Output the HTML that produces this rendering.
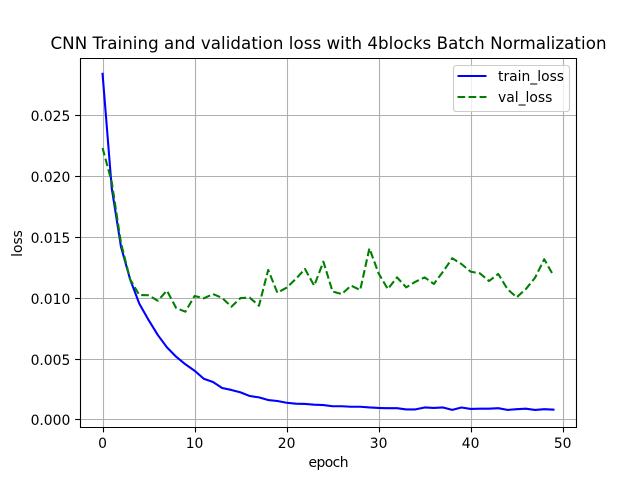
<!DOCTYPE html>
<html>
<head>
<meta charset="utf-8">
<title>CNN Training and validation loss</title>
<style>
html,body{margin:0;padding:0;background:#fff;}
svg{display:block;font-family:"DejaVu Sans","Liberation Sans",sans-serif;}
</style>
</head>
<body>
<svg id="chart" xmlns="http://www.w3.org/2000/svg" width="640" height="480" viewBox="0 0 640 480">
  <rect x="0" y="0" width="640" height="480" fill="#ffffff"/>
  <rect x="80" y="58" width="496" height="369.6" fill="#ffffff"/>
  <g id="grid"></g>
  <g id="series"></g>
  <g id="ticks"></g>
  <g fill="none" stroke="#000" stroke-width="1.11">
    <line x1="80.5" y1="58" x2="80.5" y2="428"/>
    <line x1="576.5" y1="58" x2="576.5" y2="428"/>
    <line x1="80" y1="58.5" x2="577" y2="58.5"/>
    <line x1="80" y1="427.5" x2="577" y2="427.5"/>
  </g>
  <text x="328.5" y="49" font-size="16.67" text-anchor="middle" textLength="556" fill="#000">CNN Training and validation loss with 4blocks Batch Normalization</text>
  <text x="328.5" y="467" font-size="13.89" text-anchor="middle" textLength="40" fill="#000">epoch</text>
  <text transform="translate(22,243.5) rotate(-90)" font-size="13.89" text-anchor="middle" fill="#000">loss</text>
  <g>
    <rect x="453.5" y="65.5" width="116" height="46" rx="2.8" ry="2.8" fill="#ffffff" fill-opacity="0.8" stroke="#cccccc" stroke-width="1.11"/>
    <line x1="457.5" y1="76" x2="486.5" y2="76" stroke="#0000ff" stroke-width="2.08"/>
    <text x="498" y="81" font-size="13.89" fill="#000">train_loss</text>
    <line x1="457.5" y1="97" x2="486.5" y2="97" stroke="#008000" stroke-width="2.08" stroke-dasharray="7.7 3.33"/>
    <text x="498" y="102" font-size="13.89" fill="#000">val_loss</text>
  </g>
</svg>
<script>
var epochs = [0,1,2,3,4,5,6,7,8,9,10,11,12,13,14,15,16,17,18,19,20,21,22,23,24,25,26,27,28,29,30,31,32,33,34,35,36,37,38,39,40,41,42,43,44,45,46,47,48,49];
var trainLoss = [0.0284,0.0190,0.0142,0.0115,0.0095,0.00817,0.00694,0.00592,0.00515,0.00453,0.0040,0.00334,0.00307,0.00258,0.00242,0.00222,0.00192,0.00181,0.00159,0.00151,0.00137,0.00129,0.00127,0.00121,0.00118,0.00108,0.00108,0.00104,0.00104,0.00098,0.00094,0.00092,0.00092,0.00082,0.00082,0.00098,0.00094,0.00098,0.00078,0.00098,0.00086,0.00088,0.00088,0.00092,0.00078,0.00084,0.00088,0.00078,0.00084,0.0008];
var valLoss = [0.0223,0.0195,0.0145,0.0115,0.01022,0.0102,0.00975,0.01058,0.00915,0.00885,0.01014,0.00995,0.0103,0.00998,0.00926,0.00997,0.0100,0.00934,0.01228,0.01041,0.01082,0.01154,0.01236,0.01099,0.01296,0.0105,0.0103,0.01099,0.01063,0.01406,0.0120,0.01071,0.01167,0.01085,0.01131,0.01167,0.01113,0.01214,0.01324,0.01277,0.01214,0.0120,0.01137,0.01195,0.01071,0.01003,0.01071,0.01164,0.01316,0.01181];
var xTickValues = [0,10,20,30,40,50];
var xTickLabels = ["0","10","20","30","40","50"];
var yTickValues = [0,0.005,0.01,0.015,0.02,0.025];
var yTickLabels = ["0.000","0.005","0.010","0.015","0.020","0.025"];

var NS = "http://www.w3.org/2000/svg";
var plotLeft = 80, plotRight = 576, plotTop = 57.6, plotBottom = 427.2;
var xMin = -2.45, xMax = 51.45, yMin = -0.000641, yMax = 0.029729;

function xScale(v) { return plotLeft + (v - xMin) / (xMax - xMin) * (plotRight - plotLeft); }
function yScale(v) { return plotBottom - (v - yMin) / (yMax - yMin) * (plotBottom - plotTop); }
function snap(p) { return Math.floor(p + 0.5) + 0.5; }

function make(tag, parent, attrs) {
  var el = document.createElementNS(NS, tag);
  for (var k in attrs) { el.setAttribute(k, attrs[k]); }
  parent.appendChild(el);
  return el;
}

var gridG = document.getElementById("grid");
var ticksG = document.getElementById("ticks");
var seriesG = document.getElementById("series");

xTickValues.forEach(function (v, i) {
  var x = snap(xScale(v));
  var g = make("line", gridG, { x1: x, y1: 58, x2: x, y2: 427, stroke: "#b0b0b0", "stroke-width": 1.11 });
  
  
  var t = make("line", ticksG, { x1: x, y1: 427.5, x2: x, y2: 432.4, stroke: "#000", "stroke-width": 1.11 });
  
  
  var l = make("text", ticksG, { x: xScale(v), y: 448, "font-size": 13.89, "text-anchor": "middle", fill: "#000" });
  l.textContent = xTickLabels[i];
  
  
});

yTickValues.forEach(function (v, i) {
  var y = snap(yScale(v));
  var g = make("line", gridG, { x1: plotLeft, y1: y, x2: plotRight, y2: y, stroke: "#b0b0b0", "stroke-width": 1.11 });
  
  
  var t = make("line", ticksG, { x1: 80, y1: y, x2: 75.1, y2: y, stroke: "#000", "stroke-width": 1.11 });
  
  
  var l = make("text", ticksG, { x: 70.3, y: y + 5.5, "font-size": 13.89, "text-anchor": "end", fill: "#000" });
  l.textContent = yTickLabels[i];
  
  
});

function pointsFor(values) {
  return values.map(function (v, i) { return xScale(epochs[i]).toFixed(2) + "," + yScale(v).toFixed(2); }).join(" ");
}

var trainLine = make("polyline", seriesG, { points: pointsFor(trainLoss), fill: "none", stroke: "#0000ff", "stroke-width": 2.08, "stroke-linejoin": "round", "stroke-linecap": "square" });



var valLine = make("polyline", seriesG, { points: pointsFor(valLoss), fill: "none", stroke: "#008000", "stroke-width": 2.08, "stroke-linejoin": "round", "stroke-dasharray": "7.7 3.33" });


</script>
</body>
</html>
